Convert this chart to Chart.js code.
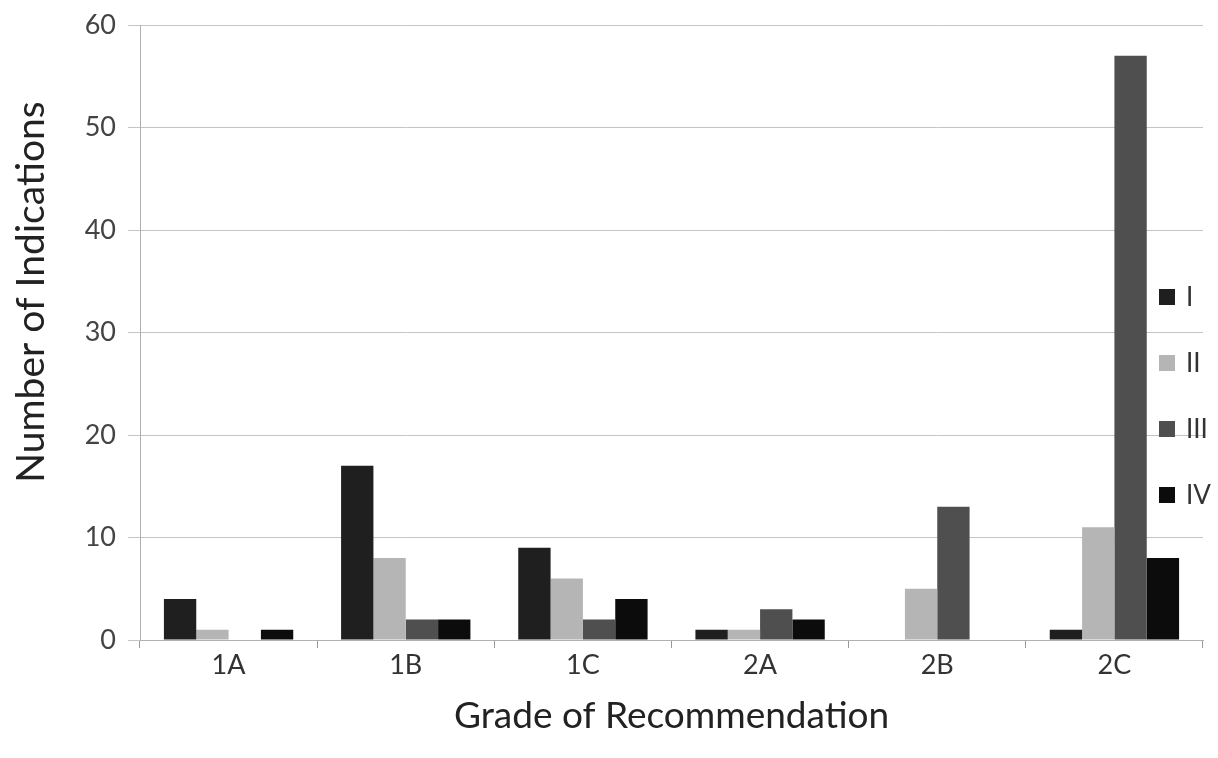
<!DOCTYPE html>
<html><head><meta charset="utf-8">
<script src="https://cdn.jsdelivr.net/npm/chart.js@4/dist/chart.umd.min.js"></script>
<style>html,body{margin:0;padding:0;background:#fff}#wrap{width:1218px;height:758px}</style>
</head><body><div id="wrap"><canvas id="c" width="1218" height="758"></canvas></div>
<script>
// Number of indications by grade of recommendation, split by level I–IV
const grades = ['1A', '1B', '1C', '2A', '2B', '2C'];
const levelNames = ['I', 'II', 'III', 'IV'];
const levelI = [4, 17, 9, 1, 0, 1];
const levelII = [1, 8, 6, 1, 5, 11];
const levelIII = [0, 2, 2, 3, 13, 57];
const levelIV = [1, 2, 4, 2, 0, 8];
const yMin = 0, yMax = 60, yStep = 10;
const yTitle = 'Number of Indications';
const xTitle = 'Grade of Recommendation';

const colors = ['#1f1f1f', '#b5b5b5', '#4f4f4f', '#0c0c0c'];
const FONT = 'Lato, "Open Sans", sans-serif';

// Legend drawn inside the plot, on its right edge, as stacked square keys
const insideLegend = {
  id: 'insideLegend',
  afterDatasetsDraw(chart) {
    const ctx = chart.ctx;
    const x = chart.chartArea.right - 44;
    const y0 = 297, gap = 66;
    ctx.save();
    ctx.font = '26px ' + FONT;
    ctx.textBaseline = 'middle';
    chart.data.datasets.forEach((ds, i) => {
      const y = y0 + i * gap;
      ctx.fillStyle = ds.backgroundColor;
      ctx.fillRect(x, y - 8, 16, 16);
      ctx.fillStyle = '#333';
      ctx.fillText(ds.label, x + 27, y + 1);
    });
    ctx.restore();
  }
};

// Vertical axis title, set a little above the middle of the value axis
const sideTitle = {
  id: 'sideTitle',
  afterDraw(chart) {
    const ctx = chart.ctx;
    ctx.save();
    ctx.translate(31, 292);
    ctx.rotate(-Math.PI / 2);
    ctx.font = '39px ' + FONT;
    ctx.fillStyle = '#222';
    ctx.textAlign = 'center';
    ctx.textBaseline = 'middle';
    ctx.fillText(yTitle, 0, 0);
    ctx.restore();
  }
};

new Chart(document.getElementById('c'), {
  type: 'bar',
  data: {
    labels: grades,
    datasets: [levelI, levelII, levelIII, levelIV].map((vals, i) => ({
      label: levelNames[i],
      data: vals,
      backgroundColor: colors[i],
      borderWidth: 0,
      categoryPercentage: 0.73,
      barPercentage: 1.0
    }))
  },
  options: {
    responsive: false,
    animation: false,
    layout: { padding: { left: 0, right: 15, top: 25, bottom: 0 } },
    plugins: { legend: { display: false }, tooltip: { enabled: false } },
    scales: {
      x: {
        grid: { drawOnChartArea: false, offset: true, tickLength: 8, color: '#9a9a9a' },
        border: { color: '#b0b0b0' },
        ticks: { color: '#333', font: { family: FONT, size: 27 }, padding: 1 },
        title: { display: true, text: xTitle, color: '#222',
                 font: { family: FONT, size: 37 }, padding: { top: 0, bottom: 20 } },
        afterFit(scale) { scale.height = 118; }
      },
      y: {
        min: yMin, max: yMax,
        ticks: { stepSize: yStep, color: '#444', font: { family: FONT, size: 27 }, padding: 12 },
        grid: { color: '#c4c4c4', tickLength: 12 },
        border: { color: '#b0b0b0' },
        afterFit(scale) {
          scale.width = 140;
          // keep the top/bottom tick labels from pushing the plot area inwards
          scale.paddingTop = 16;
          scale.paddingBottom = 16;
        }
      }
    }
  },
  plugins: [insideLegend, sideTitle]
});
</script>
</body></html>
